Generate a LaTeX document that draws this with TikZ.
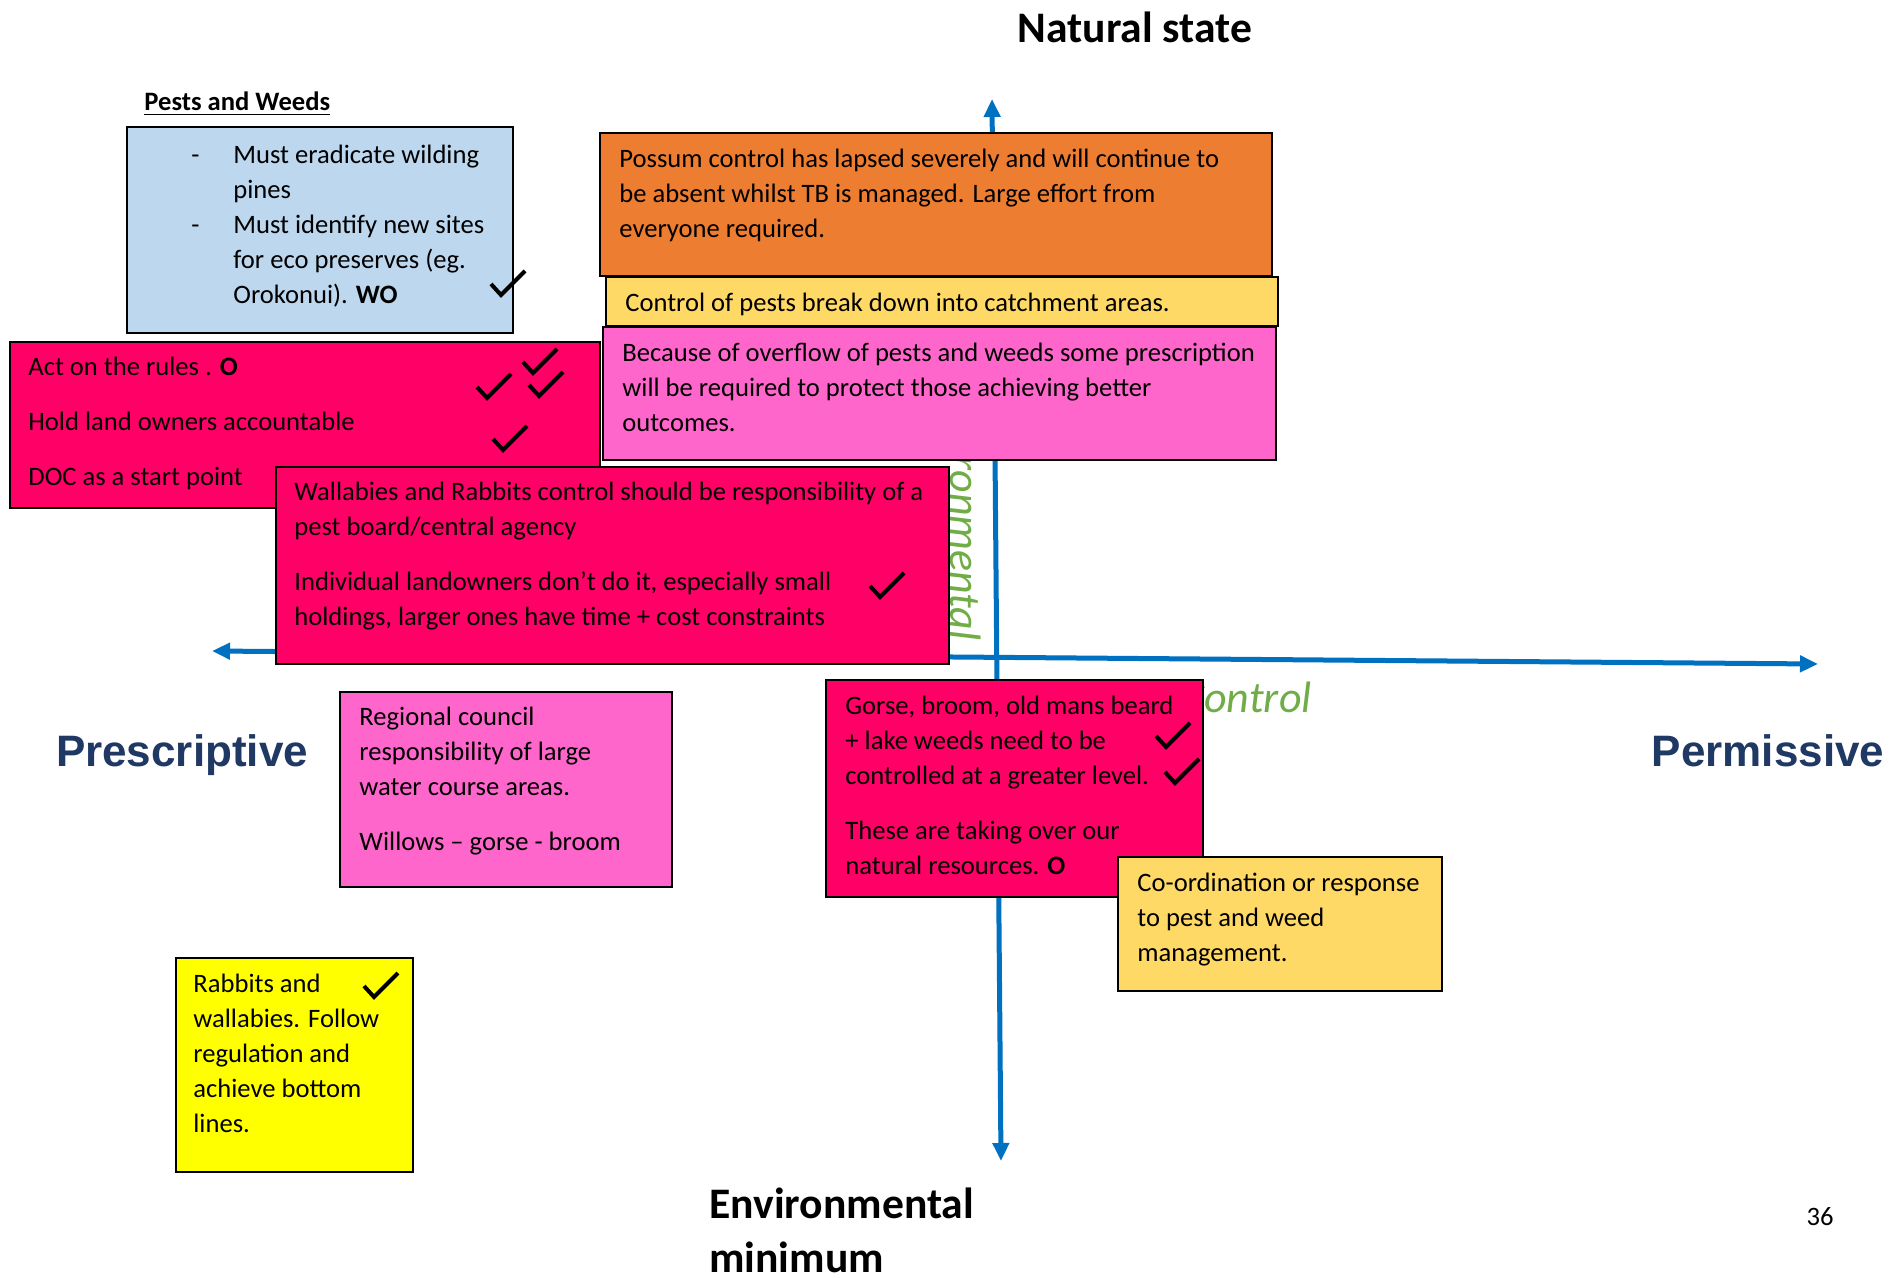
\documentclass[tikz,border=0pt]{standalone}
\usepackage{fontspec}
\setmainfont{Carlito}
\newfontfamily\arialfont{Liberation Sans}
\usetikzlibrary{positioning}
\usetikzlibrary{arrows.meta}

\definecolor{axisblue}{HTML}{0070C0}
\definecolor{navy}{HTML}{1F3864}
\definecolor{leaf}{HTML}{70AD47}
\definecolor{skyblue}{HTML}{BDD7EE}
\definecolor{hotred}{HTML}{FF0066}
\definecolor{pumpkin}{HTML}{ED7D31}
\definecolor{gold}{HTML}{FFD966}
\definecolor{candy}{HTML}{FF66CC}
\definecolor{lemon}{HTML}{FFFF00}

\tikzset{
  box/.style={draw=black, line width=0.9pt, anchor=north west, inner sep=0pt, outer sep=0pt},
  txt/.style={inner sep=0pt, align=left, font=\fontsize{13.3}{17.5}\selectfont},
  axisline/.style={draw=axisblue, line width=2.5pt, {Triangle[length=9pt,width=8pt]}-{Triangle[length=9pt,width=8pt]}},
  pole/.style={inner sep=0pt, font=\bfseries\fontsize{21.8}{27}\selectfont},
  side/.style={inner sep=0pt, text=navy, font=\arialfont\bfseries\fontsize{22}{26}\selectfont},
  faint/.style={inner sep=0pt, text=leaf, font=\itshape\fontsize{22}{26}\selectfont},
  pics/checkmk/.style={code={\draw[line width=2pt] (-17,-1) -- (-7,10) -- (17,-14);}}
}

\begin{document}
\begin{tikzpicture}[x=0.5pt, y=-0.5pt]
                \path[use as bounding box, fill=white] (0,0) rectangle (1900,1278);

                \node[faint, rotate=-90, anchor=east] (envv) at (966,641) {Environmental};
                \node[faint, anchor=base west] (ctrl) at (1181,712) {Control};

                \coordinate (ntop) at (992,99);
                \coordinate (nbot) at (1001,1161);
                \coordinate (wleft) at (212,651);
                \coordinate (eright) at (1818,664);
                \draw[axisline] (wleft) -- (eright);
                \draw[axisline] (nbot) -- (ntop);

                \node[pole, anchor=base] (natural) at (1135,43) {Natural state};
                \node[pole, align=left, anchor=north west] (envmin) at (709,1187) {Environmental\\minimum};
                \node[side, anchor=base] (presc) at (182,766) {Prescriptive};
                \node[side, anchor=base] (permis) at (1768,766) {Permissive};
                \node[txt, anchor=base] (page) at (1820,1225) {36};

                \node[txt, anchor=base west] (pests) at (144,111) {\bfseries\underline{Pests and Weeds}};

                \node[box, fill=skyblue, minimum width=193pt, minimum height=103pt] (pines) at (127,127) {};
                \node[txt, below right=9pt and 32pt of pines.north west] (pinestxt)
                    {\makebox[21pt][l]{-}Must eradicate wilding\\\hspace*{21pt}pines\\
                     \makebox[21pt][l]{-}Must identify new sites\\\hspace*{21pt}for eco preserves (eg.\\
                     \hspace*{21pt}Orokonui). \textbf{WO}};

                \node[box, fill=hotred, minimum width=295pt, minimum height=83pt] (rules) at (10,342) {};
                \node[txt, below right=7.5pt and 9pt of rules.north west] (rulestxt)
                    {Act on the rules . \textbf{O}\\[10pt]Hold land owners accountable\\[10pt]DOC as a start point};

                \node[box, fill=pumpkin, minimum width=336pt, minimum height=71.5pt] (possum) at (600,133) {};
                \node[txt, below right=8pt and 9.5pt of possum.north west] (possumtxt)
                    {Possum control has lapsed severely and will continue to\\be absent whilst TB is managed. Large effort from\\everyone required.};

                \node[box, fill=gold, minimum width=336pt, minimum height=24.5pt] (catch) at (606,277) {};
                \node[txt, below right=8pt and 9.5pt of catch.north west] (catchtxt)
                    {Control of pests break down into catchment areas.};

                \node[box, fill=candy, minimum width=336.5pt, minimum height=66.5pt] (overflow) at (603,327) {};
                \node[txt, below right=8pt and 9.5pt of overflow.north west] (overflowtxt)
                    {Because of overflow of pests and weeds some prescription\\will be required to protect those achieving better\\outcomes.};

                \node[box, fill=hotred, minimum width=336.5pt, minimum height=98.5pt] (wallaby) at (276,467) {};
                \node[txt, below right=7.5pt and 9pt of wallaby.north west] (wallabytxt)
                    {Wallabies and Rabbits control should be responsibility of a\\pest board/central agency\\[10pt]
                     Individual landowners don’t do it, especially small\\holdings, larger ones have time + cost constraints};

                \node[box, fill=candy, minimum width=166pt, minimum height=97.5pt] (regional) at (340,692) {};
                \node[txt, below right=7.5pt and 9.5pt of regional.north west] (regionaltxt)
                    {Regional council\\responsibility of large\\water course areas.\\[10pt]Willows – gorse - broom};

                \node[box, fill=hotred, minimum width=188.5pt, minimum height=108.5pt] (gorse) at (826,680) {};
                \node[txt, below right=8pt and 9.5pt of gorse.north west] (gorsetxt)
                    {Gorse, broom, old mans beard\\+ lake weeds need to be\\controlled at a greater level.\\[10pt]
                     These are taking over our\\natural resources. \textbf{O}};

                \node[box, fill=gold, minimum width=162pt, minimum height=67pt] (coord) at (1118,857) {};
                \node[txt, below right=8pt and 9.5pt of coord.north west] (coordtxt)
                    {Co-ordination or response\\to pest and weed\\management.};

                \node[box, fill=lemon, minimum width=118.5pt, minimum height=107pt] (rabbits) at (176,958) {};
                \node[txt, below right=8pt and 8.5pt of rabbits.north west] (rabbitstxt)
                    {Rabbits and\\wallabies. Follow\\regulation and\\achieve bottom\\lines.};

                \pic at (508,285) {checkmk};
                \pic at (540,363) {checkmk};
                \pic at (494,388) {checkmk};
                \pic at (546,386) {checkmk};
                \pic at (510,440) {checkmk};
                \pic at (887,587) {checkmk};
                \pic at (1173,737) {checkmk};
                \pic at (1182,773) {checkmk};
                \pic at (381,987) {checkmk};
            \end{tikzpicture}
\end{document}
